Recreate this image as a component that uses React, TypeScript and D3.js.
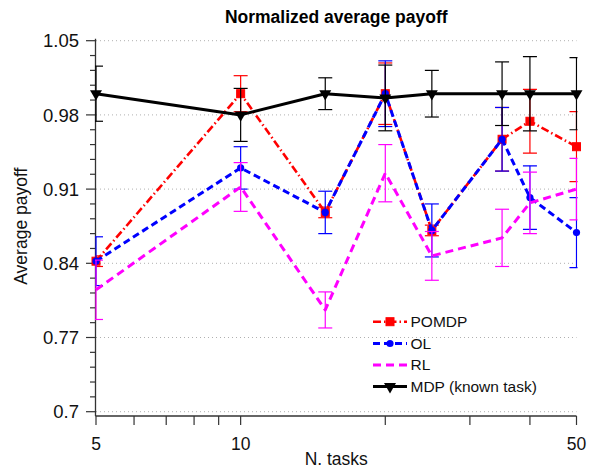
import React from "react";
import * as d3 from "d3";

const tasks = [5, 10, 15, 20, 25, 35, 40, 50];
const pomdp = [0.842, 1.0, 0.888, 1.0, 0.871, 0.957, 0.974, 0.95];
const pomdpErr = [0.005, 0.017, 0.005, 0.029, 0.005, 0.03, 0.03, 0.033];
const ol = [0.842, 0.93, 0.888, 1.0, 0.871, 0.957, 0.902, 0.869];
const olErr = [0.023, 0.02, 0.02, 0.031, 0.025, 0.03, 0.03, 0.033];
const rl = [0.815, 0.912, 0.796, 0.925, 0.847, 0.864, 0.897, 0.91];
const rlErr = [0.028, 0.023, 0.017, 0.027, 0.023, 0.027, 0.029, 0.029];
const mdp = [1.0, 0.98, 1.0, 0.996, 1.0, 1.0, 1.0, 1.0];
const mdpErr = [0.026, 0.025, 0.015, 0.031, 0.022, 0.03, 0.035, 0.034];

const yMajorTicks = [0.7, 0.77, 0.84, 0.91, 0.98, 1.05];
const xTicks = [5, 6, 7, 8, 9, 10, 20, 30, 40, 50];
const xTickLabels = [5, 10, 50];
const legendLabels = ["POMDP", "OL", "RL", "MDP (known task)"];

const FONT = "'Liberation Sans', Arial, Helvetica, sans-serif";

type Series = {
  name: string;
  values: number[];
  errs: number[];
  color: string;
  dash: string | null;
  width: number;
  marker: "square" | "circle" | "none" | "tri";
};

const series: Series[] = [
  { name: legendLabels[0], values: pomdp, errs: pomdpErr, color: "#ff0000", dash: "8,3,1.5,3", width: 2.6, marker: "square" },
  { name: legendLabels[1], values: ol, errs: olErr, color: "#0000ff", dash: "7,4", width: 3, marker: "circle" },
  { name: legendLabels[2], values: rl, errs: rlErr, color: "#ff00ff", dash: "8,5", width: 3, marker: "none" },
  { name: legendLabels[3], values: mdp, errs: mdpErr, color: "#000000", dash: null, width: 3, marker: "tri" },
];

const X0 = 96;
const X1 = 576.5;
const Y0 = 411.7;
const Y1 = 40.7;

const x = d3.scaleLog().domain([5, 50]).range([X0, X1]);
const y = d3.scaleLinear().domain([0.7, 1.05]).range([Y0, Y1]);

const triPath = d3.symbol().type(d3.symbolTriangle).size(62)() as string;

function Marker({ kind, cx, cy, color }: { kind: string; cx: number; cy: number; color: string }) {
  if (kind === "square") {
    return <rect x={cx - 4} y={cy - 4} width={8} height={8} fill={color} stroke={color} strokeWidth={1} />;
  }
  if (kind === "circle") {
    return <circle cx={cx} cy={cy} r={3.6} fill={color} />;
  }
  if (kind === "tri") {
    return <path d={triPath} transform={`translate(${cx},${cy}) rotate(180)`} fill={color} />;
  }
  return null;
}

export default function App() {
  const minorY: number[] = [];
  for (let i = 0; i <= 25; i++) minorY.push(0.7 + i * 0.014);

  const line = d3
    .line<number>()
    .x((_, i) => x(tasks[i]))
    .y((d) => y(d));

  const axisY = Y0 + 4.3;
  const legendX0 = 373;
  const legendX1 = 407;
  const legendY = [321.7, 343.5, 365, 386.5];

  return (
    <svg
      width={589}
      height={469}
      style={{ position: "absolute", left: 0, top: 0, background: "#fff" }}
      fontFamily={FONT}
    >
      <defs>
        <clipPath id="plotclip">
          <rect x={X0 - 1} y={0} width={X1 - X0 + 2} height={469} />
        </clipPath>
      </defs>
      <rect width={589} height={469} fill="#fff" />

      {/* gridlines */}
      {yMajorTicks.map((t) => (
        <line key={"g" + t} x1={X0} x2={X1} y1={y(t)} y2={y(t)} stroke="#b0b0b0" strokeWidth={1} strokeDasharray="1,3" />
      ))}

      {/* axes */}
      <line x1={X0 - 0.5} x2={X0 - 0.5} y1={Y1 - 2} y2={axisY} stroke="#333" strokeWidth={1.3} />
      <line x1={X0 - 0.5} x2={X1} y1={axisY} y2={axisY} stroke="#333" strokeWidth={1.3} />
      {minorY.map((t, i) => (
        <line
          key={"yt" + i}
          x1={i % 5 === 0 ? X0 - 10 : X0 - 6}
          x2={X0 - 0.5}
          y1={y(t)}
          y2={y(t)}
          stroke="#333"
          strokeWidth={1.2}
        />
      ))}
      {yMajorTicks.map((t) => (
        <text key={"yl" + t} x={79} y={y(t)} dy="0.36em" textAnchor="end" fontSize={18.5} fill="#111">
          {String(t)}
        </text>
      ))}
      {xTicks.map((t) => (
        <line key={"xt" + t} x1={x(t)} x2={x(t)} y1={axisY} y2={axisY + 9} stroke="#333" strokeWidth={1.2} />
      ))}
      {xTickLabels.map((t) => (
        <text key={"xl" + t} x={x(t)} y={450} textAnchor="middle" fontSize={17.5} fill="#111">
          {String(t)}
        </text>
      ))}

      {/* series */}
      {series.map((s) => (
        <g key={s.name}>
          <g clipPath="url(#plotclip)">
            {s.values.map((v, i) => {
              const cx = x(tasks[i]);
              const yt = y(v + s.errs[i]);
              const yb = y(v - s.errs[i]);
              return (
                <g key={i} stroke={s.color} strokeWidth={1.2}>
                  <line x1={cx} x2={cx} y1={yt} y2={yb} />
                  <line x1={cx - 7} x2={cx + 7} y1={yt} y2={yt} />
                  <line x1={cx - 7} x2={cx + 7} y1={yb} y2={yb} />
                </g>
              );
            })}
          </g>
          <path
            d={line(s.values) as string}
            fill="none"
            stroke={s.color}
            strokeWidth={s.width}
            strokeDasharray={s.dash ?? undefined}
            strokeLinejoin="round"
          />
          {s.values.map((v, i) => (
            <Marker key={"m" + i} kind={s.marker} cx={x(tasks[i])} cy={y(v)} color={s.color} />
          ))}
        </g>
      ))}

      {/* legend */}
      {series.map((s, i) => (
        <g key={"lg" + s.name}>
          <line
            x1={legendX0}
            x2={legendX1}
            y1={legendY[i]}
            y2={legendY[i]}
            stroke={s.color}
            strokeWidth={s.width}
            strokeDasharray={s.dash ?? undefined}
          />
          <Marker kind={s.marker} cx={(legendX0 + legendX1) / 2} cy={legendY[i]} color={s.color} />
          <text x={410.5} y={legendY[i]} dy="0.35em" fontSize={15.5} fill="#111">
            {s.name}
          </text>
        </g>
      ))}

      {/* titles */}
      <text x={(X0 + X1) / 2} y={23} textAnchor="middle" fontSize={17.5} fontWeight="bold" fill="#000">
        Normalized average payoff
      </text>
      <text x={(X0 + X1) / 2} y={465} textAnchor="middle" fontSize={17.5} fill="#111">
        N. tasks
      </text>
      <text transform={`translate(27,${(Y0 + Y1) / 2}) rotate(-90)`} textAnchor="middle" fontSize={17.5} fill="#111">
        Average payoff
      </text>
    </svg>
  );
}
